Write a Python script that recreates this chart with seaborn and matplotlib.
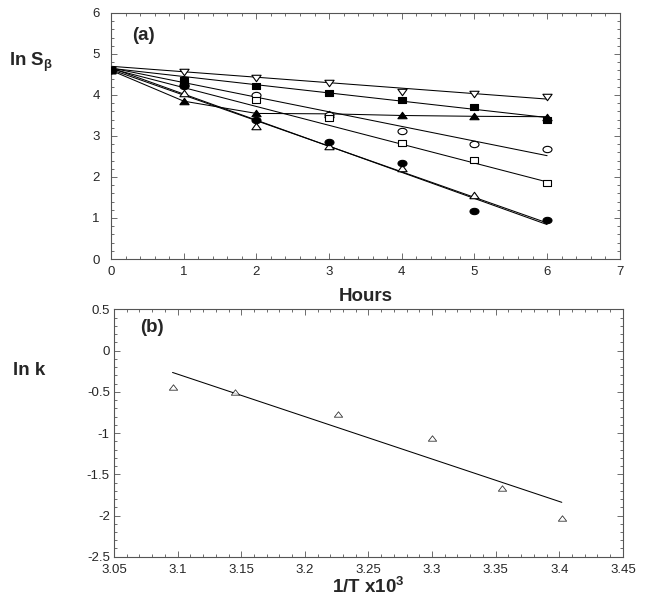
import numpy as np
import seaborn as sns
import matplotlib
matplotlib.use("Agg")
import matplotlib.pyplot as plt
from matplotlib.markers import MarkerStyle
from matplotlib.ticker import MultipleLocator, FormatStrFormatter

# panel (a): ln S_beta vs hours, seven runs
hours = [0, 1, 2, 3, 4, 5, 6]
s_down_tri = [4.60, 4.55, 4.42, 4.30, 4.08, 4.02, 3.94]
s_fill_sq = [4.60, 4.36, 4.21, 4.04, 3.88, 3.71, 3.39]
s_fill_tri = [4.60, 3.85, 3.55, 3.54, 3.50, 3.48, 3.47]
s_open_circ = [4.60, 4.25, 3.99, 3.52, 3.12, 2.80, 2.68]
s_open_sq = [4.60, 4.30, 3.88, 3.43, 2.82, 2.41, 1.85]
s_fill_circ = [4.60, 4.23, 3.38, 2.85, 2.33, 1.17, 0.94]
s_open_tri = [4.60, 4.05, 3.25, 2.76, 2.21, 1.56, np.nan]

# fitted lines, value read at t=0 and t=6
fit_t = [0, 6]
fit_down_tri = [4.70, 3.90]
fit_fill_sq = [4.65, 3.45]
fit_open_circ = [4.66, 2.52]
fit_open_sq = [4.64, 1.88]
fit_fill_circ = [4.66, 0.84]
fit_open_tri = [4.62, 0.88]

# panel (b): Arrhenius plot
inv_t = [3.096, 3.145, 3.226, 3.300, 3.355, 3.402]
ln_k = [-0.445, -0.506, -0.765, -1.06, -1.66, -2.03]

sns.set_style("ticks")
plt.rcParams["font.family"] = ["Liberation Sans", "DejaVu Sans"]
plt.rcParams["axes.unicode_minus"] = False
plt.rcParams["mathtext.fontset"] = "custom"
plt.rcParams["mathtext.rm"] = "Liberation Sans:bold"
plt.rcParams["mathtext.bf"] = "Liberation Sans:bold"
plt.rcParams["mathtext.it"] = "Liberation Sans:bold"
plt.rcParams["mathtext.default"] = "bf"


def squashed(m, k=0.7):
    ms = MarkerStyle(m)
    return ms.get_path().transformed(ms.get_transform().scale(1, k))


fig = plt.figure(figsize=(6.49, 6.06), dpi=100)
ax1 = fig.add_axes([0.171, 0.5726, 0.784, 0.406])
ax2 = fig.add_axes([0.1757, 0.0813, 0.784, 0.408])

lw = 0.75
label_fs = 13.5
tick_fs = 9.5

# drawing order: filled square last so it sits on top at t=0
series = [
    (s_down_tri, "v", "white", 44),
    (s_fill_tri, "^", "black", 44),
    (s_open_circ, "o", "white", 42),
    (s_open_sq, "s", "white", 40),
    (s_open_tri, "^", "white", 44),
    (s_fill_circ, "o", "black", 42),
    (s_fill_sq, "s", "black", 40),
]
for fit in [fit_down_tri, fit_fill_sq, fit_open_circ, fit_open_sq,
            fit_fill_circ, fit_open_tri]:
    sns.lineplot(x=fit_t, y=fit, ax=ax1, color="black", lw=lw)
sns.lineplot(x=hours, y=s_fill_tri, ax=ax1, color="black", lw=lw)

for vals, m, face, size in series:
    sns.scatterplot(x=hours, y=vals, ax=ax1, marker=squashed(m), s=size,
                    facecolor=face, edgecolor="black", linewidth=0.8, zorder=3)

ax1.set_xlim(0, 7)
ax1.set_ylim(0, 6)
ax1.xaxis.set_major_locator(MultipleLocator(1))
ax1.xaxis.set_minor_locator(MultipleLocator(0.2))
ax1.yaxis.set_major_locator(MultipleLocator(1))
ax1.yaxis.set_minor_locator(MultipleLocator(0.2))
ax1.set_xlabel("Hours", fontsize=label_fs, fontweight="bold", labelpad=7)
ax1.set_ylabel("")
ax1.text(-0.2, 0.80, r"ln S$_{\beta}$", transform=ax1.transAxes,
         fontsize=label_fs, fontweight="bold", ha="left", va="center")
ax1.text(0.041, 0.91, "(a)", transform=ax1.transAxes, fontsize=label_fs,
         fontweight="bold", ha="left", va="center")

sns.regplot(x=inv_t, y=ln_k, ax=ax2, ci=None, truncate=True,
            marker=squashed("^", 0.65),
            scatter_kws=dict(s=36, facecolor="white", edgecolor="black",
                             linewidths=0.6, zorder=3),
            line_kws=dict(color="black", lw=lw))
ax2.set_xlim(3.05, 3.45)
ax2.set_ylim(-2.5, 0.5)
ax2.xaxis.set_major_locator(MultipleLocator(0.05))
ax2.xaxis.set_minor_locator(MultipleLocator(0.01))
ax2.yaxis.set_major_locator(MultipleLocator(0.5))
ax2.yaxis.set_minor_locator(MultipleLocator(0.1))
ax2.xaxis.set_major_formatter(FormatStrFormatter("%g"))
ax2.yaxis.set_major_formatter(FormatStrFormatter("%g"))
ax2.set_xlabel(r"1/T x10$^{3}$", fontsize=label_fs, fontweight="bold",
               labelpad=1)
ax2.set_ylabel("")
ax2.text(-0.198, 0.752, "ln k", transform=ax2.transAxes, fontsize=label_fs,
         fontweight="bold", ha="left", va="center")
ax2.text(0.051, 0.926, "(b)", transform=ax2.transAxes, fontsize=label_fs,
         fontweight="bold", ha="left", va="center")

for ax, pad in [(ax1, 8), (ax2, 3)]:
    for sp in ax.spines.values():
        sp.set_visible(True)
        sp.set_color("#555555")
        sp.set_linewidth(0.8)
    ax.tick_params(which="both", direction="in", top=True, right=True,
                   color="#555555", labelsize=tick_fs, width=0.6)
    ax.tick_params(which="major", length=4)
    ax.tick_params(which="minor", length=2)
    ax.tick_params(axis="y", pad=pad)
    ax.tick_params(axis="x", pad=5)

fig.savefig("out.png", dpi=100)
